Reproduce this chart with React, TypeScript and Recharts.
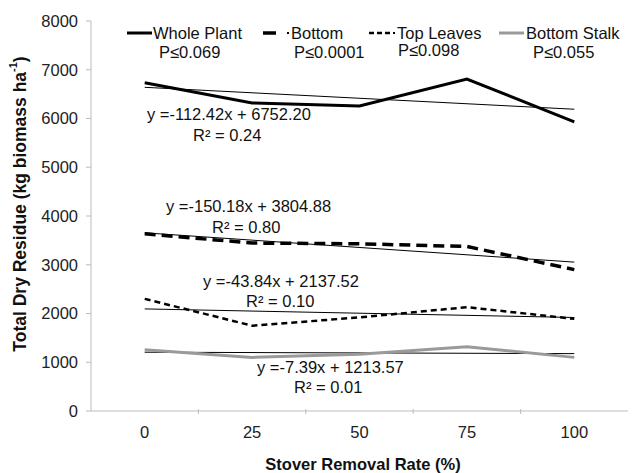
import React from 'react';
import { LineChart, Line, XAxis, YAxis } from 'recharts';

const categories = ['0', '25', '50', '75', '100'];
const wholePlant = [6735, 6320, 6255, 6810, 5930];
const bottom = [3635, 3445, 3430, 3375, 2900];
const topLeaves = [2300, 1750, 1920, 2130, 1890];
const bottomStalk = [1255, 1100, 1165, 1320, 1100];

// fitted trend lines, start and end values
const trendWhole = [6640, 6190];
const trendBottom = [3655, 3054];
const trendTop = [2094, 1918];
const trendStalk = [1206, 1177];

const yTicks = [0, 1000, 2000, 3000, 4000, 5000, 6000, 7000, 8000];

const legendNames = ['Whole Plant', 'Bottom', 'Top Leaves', 'Bottom Stalk'];
const legendP = ['P\u22640.069', 'P\u22640.0001', 'P\u22640.098', 'P\u22640.055'];
const equations = ['y =-112.42x + 6752.20', 'y =-150.18x + 3804.88', 'y =-43.84x + 2137.52', 'y =-7.39x + 1213.57'];
const r2 = ['R\u00b2 = 0.24', 'R\u00b2 = 0.80', 'R\u00b2 = 0.10', 'R\u00b2 = 0.01'];

const ends = (arr: number[], i: number) => (i === 0 ? arr[0] : i === categories.length - 1 ? arr[1] : null);

const data = categories.map((c, i) => ({
  name: c,
  whole: wholePlant[i],
  bottom: bottom[i],
  top: topLeaves[i],
  stalk: bottomStalk[i],
  tWhole: ends(trendWhole, i),
  tBottom: ends(trendBottom, i),
  tTop: ends(trendTop, i),
  tStalk: ends(trendStalk, i),
}));

const FONT = '"Liberation Sans", Arial, Helvetica, sans-serif';
const AXIS = '#bdbdbd';
const FS = 16.5;

const XTick = (props: any) => {
  const { x, y, payload, index } = props;
  const half = payload && payload.offset ? payload.offset : 53.7;
  return (
    <g>
      {index < categories.length - 1 && (
        <line x1={x + half} x2={x + half} y1={y - 17} y2={y - 12} stroke={AXIS} strokeWidth={1} />
      )}
      <text x={x} y={y} dy="0.71em" textAnchor="middle" fill="#222" fontSize={FS} fontFamily={FONT}>
        {payload.value}
      </text>
    </g>
  );
};

const Overlay = () => {
  const t = { fontSize: FS, fontFamily: FONT, fill: '#111', dominantBaseline: 'central' as const };
  return (
    <svg width={636} height={473} style={{ position: 'absolute', left: 0, top: 0, pointerEvents: 'none' }}>
      {/* legend */}
      <line x1={127} x2={152} y1={33} y2={33} stroke="#000" strokeWidth={3} />
      <text x={153} y={33} {...t}>{legendNames[0]}</text>
      <text x={159} y={52} {...t}>{legendP[0]}</text>

      <line x1={263} x2={276} y1={33} y2={33} stroke="#000" strokeWidth={3.5} />
      <line x1={287} x2={289} y1={33} y2={33} stroke="#000" strokeWidth={2} />
      <text x={291} y={33} {...t}>{legendNames[1]}</text>
      <text x={294} y={52} {...t}>{legendP[1]}</text>

      <line x1={369} x2={392} y1={33} y2={33} stroke="#000" strokeWidth={2.5} strokeDasharray="5 3" />
      <line x1={393} x2={395} y1={33} y2={33} stroke="#000" strokeWidth={2} />
      <text x={397} y={33} {...t}>{legendNames[2]}</text>
      <text x={398} y={50} {...t}>{legendP[2]}</text>

      <line x1={499} x2={524} y1={33} y2={33} stroke="#9a9a9a" strokeWidth={3} />
      <text x={526} y={33} {...t}>{legendNames[3]}</text>
      <text x={533} y={52} {...t}>{legendP[3]}</text>

      {/* fit equations */}
      <text x={147} y={114} {...t}>{equations[0]}</text>
      <text x={193} y={135} {...t}>{r2[0]}</text>
      <text x={166} y={206} {...t}>{equations[1]}</text>
      <text x={212} y={227} {...t}>{r2[1]}</text>
      <text x={203} y={281} {...t}>{equations[2]}</text>
      <text x={246} y={301} {...t}>{r2[2]}</text>
      <text x={257} y={367} {...t}>{equations[3]}</text>
      <text x={294} y={387} {...t}>{r2[3]}</text>

      {/* axis titles */}
      <text x={363} y={464} textAnchor="middle" fontWeight="bold" {...t}>Stover Removal Rate (%)</text>
      <text x={20} y={204} textAnchor="middle" fontWeight="bold" transform="rotate(-90 20 204)" {...t} fontSize={17.5}>
        Total Dry Residue (kg biomass ha
        <tspan fontSize={11} dy={-7}>-1</tspan>
        <tspan dy={7}>)</tspan>
      </text>
    </svg>
  );
};

export default function App() {
  return (
    <div style={{ position: 'absolute', left: 0, top: 0, width: 636, height: 473, background: '#fff' }}>
      <LineChart width={636} height={473} data={data} margin={{ top: 21, right: 8, bottom: 32, left: 0 }}>
        <XAxis
          dataKey="name"
          scale="band"
          height={30}
          axisLine={{ stroke: AXIS }}
          tickLine={false}
          tickSize={5}
          tickMargin={10}
          tick={<XTick />}
          interval={0}
        />
        <YAxis
          domain={[0, 8000]}
          ticks={yTicks}
          width={91}
          axisLine={{ stroke: AXIS }}
          tickLine={{ stroke: AXIS }}
          tickSize={5}
          tickMargin={8}
          tick={{ fill: '#222', fontSize: FS, fontFamily: FONT }}
        />
        <Line dataKey="tWhole" stroke="#000" strokeWidth={1} dot={false} connectNulls isAnimationActive={false} />
        <Line dataKey="tBottom" stroke="#000" strokeWidth={1} dot={false} connectNulls isAnimationActive={false} />
        <Line dataKey="tTop" stroke="#000" strokeWidth={1} dot={false} connectNulls isAnimationActive={false} />
        <Line dataKey="tStalk" stroke="#000" strokeWidth={1} dot={false} connectNulls isAnimationActive={false} />
        <Line dataKey="stalk" stroke="#9a9a9a" strokeWidth={3} dot={false} type="linear" isAnimationActive={false} />
        <Line dataKey="top" stroke="#000" strokeWidth={2.5} strokeDasharray="6 4" dot={false} type="linear" isAnimationActive={false} />
        <Line dataKey="bottom" stroke="#000" strokeWidth={3.5} strokeDasharray="11 6" dot={false} type="linear" isAnimationActive={false} />
        <Line dataKey="whole" stroke="#000" strokeWidth={3} dot={false} type="linear" isAnimationActive={false} />
      </LineChart>
      <Overlay />
    </div>
  );
}
